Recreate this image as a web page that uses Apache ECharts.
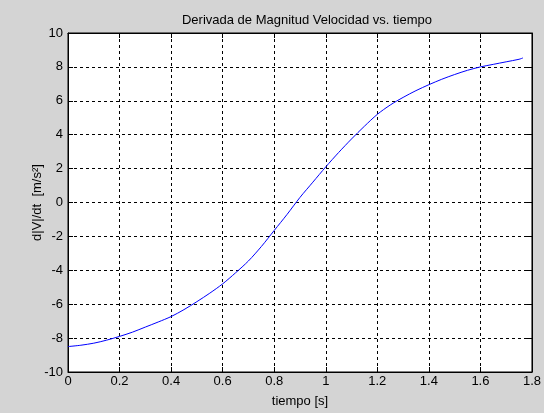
<!DOCTYPE html>
<html>
<head>
<meta charset="utf-8">
<script src="https://cdn.jsdelivr.net/npm/echarts@6/dist/echarts.min.js"></script>
<style>
html,body{margin:0;padding:0;background:#d4d4d4;}
#chart{width:544px;height:413px;}
</style>
</head>
<body>
<div id="chart"></div>
<script>
const titleText = 'Derivada de Magnitud Velocidad vs. tiempo';
const xName = 'tiempo [s]';
const yName = 'd|V|/dt  [m/s²]';
const tiempo = [0,0.05,0.1,0.15,0.2,0.25,0.3,0.35,0.4,0.45,0.5,0.55,0.6,0.65,0.7,0.75,0.8,0.85,0.9,0.95,1.0,1.05,1.1,1.15,1.2,1.25,1.3,1.35,1.4,1.45,1.5,1.55,1.6,1.65,1.7,1.75,1.765];
const dVdt = [-8.5,-8.42,-8.3,-8.12,-7.9,-7.65,-7.35,-7.05,-6.73,-6.32,-5.85,-5.35,-4.8,-4.15,-3.45,-2.6,-1.65,-0.7,0.3,1.2,2.1,2.95,3.75,4.5,5.2,5.75,6.2,6.6,6.95,7.27,7.55,7.8,8.0,8.15,8.3,8.45,8.53];

const font = 'Liberation Sans, Arial, sans-serif';
const chart = echarts.init(document.getElementById('chart'));
const dash = {color:'#000', type:[3,3], width:1};
chart.setOption({
  backgroundColor:'#d4d4d4',
  animation:false,
  title:{text:titleText, left:302, top:9, textAlign:'center',
    textStyle:{fontFamily:font, fontSize:13, fontWeight:'normal', color:'#000'}},
  grid:{left:68, right:8, top:33, bottom:40, show:true, backgroundColor:'#fff', borderColor:'#000', borderWidth:1},
  xAxis:[{type:'value', min:0, max:1.8, interval:0.2, name:xName, nameLocation:'middle', nameGap:23, nameMoveOverlap:false,
    nameTextStyle:{fontFamily:font, fontSize:13, color:'#000', verticalAlign:'top'},
    axisLine:{show:true, onZero:false, lineStyle:{color:'#000'}},
    axisTick:{show:true, inside:true, length:5, lineStyle:{color:'#000'}},
    axisLabel:{fontFamily:font, fontSize:13, color:'#000', margin:3},
    splitLine:{show:true, lineStyle:dash}},
    {type:'value', position:'top', min:0, max:1.8, interval:0.2,
    axisLine:{show:true, onZero:false, lineStyle:{color:'#000'}},
    axisTick:{show:true, inside:true, length:5, lineStyle:{color:'#000'}},
    axisLabel:{show:false}, splitLine:{show:false}}],
  yAxis:[{type:'value', min:-10, max:10, interval:2, name:yName, nameLocation:'middle', nameGap:24, nameRotate:90, nameMoveOverlap:false,
    nameTextStyle:{fontFamily:font, fontSize:13, color:'#000'},
    axisLine:{show:true, onZero:false, lineStyle:{color:'#000'}},
    axisTick:{show:true, inside:true, length:5, lineStyle:{color:'#000'}},
    axisLabel:{fontFamily:font, fontSize:13, color:'#000', margin:5},
    splitLine:{show:true, lineStyle:dash}},
    {type:'value', position:'right', min:-10, max:10, interval:2,
    axisLine:{show:true, onZero:false, lineStyle:{color:'#000'}},
    axisTick:{show:true, inside:true, length:5, lineStyle:{color:'#000'}},
    axisLabel:{show:false}, splitLine:{show:false}}],
  series:[{type:'line', xAxisIndex:0, yAxisIndex:0, data:tiempo.map((t,i)=>[t,dVdt[i]]),
    showSymbol:false, smooth:0.3, lineStyle:{color:'#0000ff', width:1}}]
});
</script>
</body>
</html>
